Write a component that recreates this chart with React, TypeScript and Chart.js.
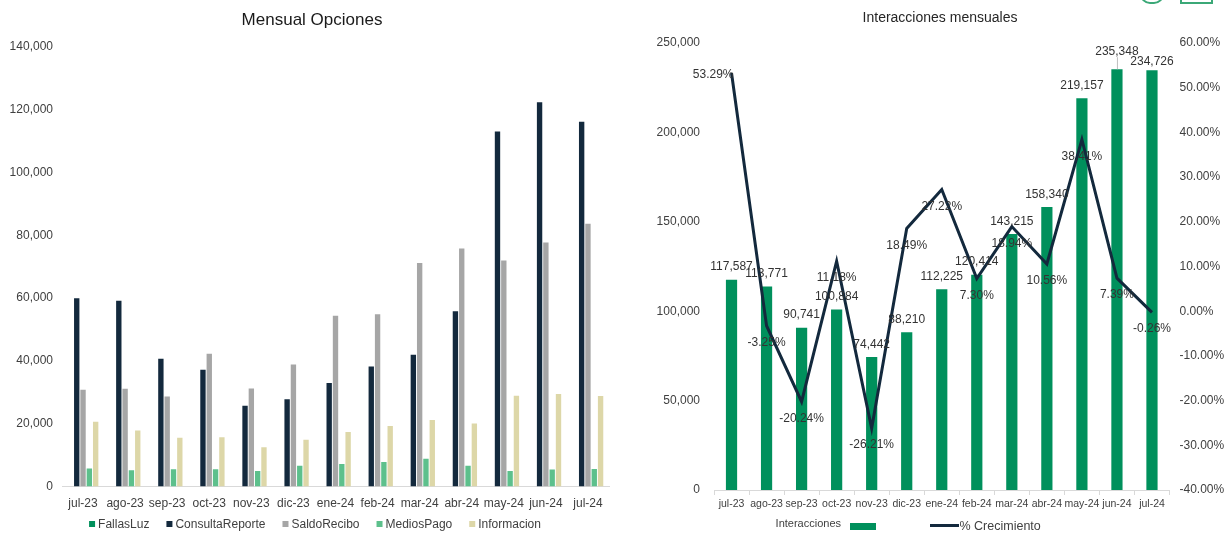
import React, { useEffect, useRef } from "react";
import { Chart, registerables } from "chart.js";

Chart.register(...registerables);

const months = ["jul-23", "ago-23", "sep-23", "oct-23", "nov-23", "dic-23", "ene-24", "feb-24", "mar-24", "abr-24", "may-24", "jun-24", "jul-24"];

const fallasLuz = [0, 0, 0, 0, 0, 0, 0, 0, 0, 0, 0, 0, 0];
const consultaReporte = [60000, 59200, 40700, 37200, 25700, 27800, 33000, 38200, 42000, 55800, 113100, 122400, 116200];
const saldoRecibo = [30800, 31100, 28700, 42300, 31200, 38900, 54400, 54900, 71200, 75800, 72000, 77700, 83700];
const mediosPago = [5700, 5200, 5500, 5500, 4900, 6600, 7200, 7800, 8800, 6600, 4900, 5400, 5600];
const informacion = [20600, 17800, 15500, 15700, 12500, 14900, 17400, 19300, 21200, 20100, 28900, 29500, 28800];

const seriesNames = ["FallasLuz", "ConsultaReporte", "SaldoRecibo", "MediosPago", "Informacion"];
const seriesColors = ["#00905C", "#13293D", "#A6A6A6", "#5DC08C", "#DDD7A8"];

const interacciones = [117587, 113771, 90741, 100884, 74442, 88210, 112225, 120414, 143215, 158340, 219157, 235348, 234726];
const crecimiento = [53.29, -3.25, -20.24, 11.18, -26.21, 18.49, 27.22, 7.3, 18.94, 10.56, 38.41, 7.39, -0.26];

const leftTitle = "Mensual Opciones";
const rightTitle = "Interacciones mensuales";
const rightLegend = ["Interacciones", "% Crecimiento"];

const FONT = '"Liberation Sans", Arial, sans-serif';
const TEXT = "#404040";

function LeftChart() {
  const ref = useRef<HTMLCanvasElement>(null);
  useEffect(() => {
    const series = [fallasLuz, consultaReporte, saldoRecibo, mediosPago, informacion];
    const overlay = {
      id: "leftOverlay",
      afterDraw(chart: any) {
        const ctx = chart.ctx;
        ctx.save();
        ctx.fillStyle = "#1a1a1a";
        ctx.font = `17px ${FONT}`;
        ctx.textAlign = "center";
        ctx.textBaseline = "middle";
        ctx.fillText(leftTitle, 312, 20.5);
        // legend
        ctx.font = `12px ${FONT}`;
        ctx.textAlign = "left";
        const box = 6, gap = 3, spacing = 17;
        const widths = seriesNames.map((n) => box + gap + ctx.measureText(n).width);
        const total = widths.reduce((a, b) => a + b, 0) + spacing * (widths.length - 1);
        let x = 315 - total / 2;
        seriesNames.forEach((n, i) => {
          ctx.fillStyle = seriesColors[i];
          ctx.fillRect(x, 521, box, box);
          ctx.fillStyle = TEXT;
          ctx.fillText(n, x + box + gap, 524.5);
          x += widths[i] + spacing;
        });
        ctx.restore();
      },
    };
    const chart = new Chart(ref.current as HTMLCanvasElement, {
      type: "bar",
      data: {
        labels: months,
        datasets: series.map((d, i) => ({
          label: seriesNames[i],
          data: d,
          backgroundColor: seriesColors[i],
          categoryPercentage: 0.75,
          barPercentage: 0.85,
        })),
      },
      options: {
        responsive: false,
        animation: false,
        devicePixelRatio: 1,
        layout: { padding: { top: 47, right: 11, bottom: 0, left: 0 } },
        plugins: { legend: { display: false }, title: { display: false }, tooltip: { enabled: false } },
        scales: {
          x: {
            grid: { display: false, drawTicks: false },
            border: { display: true, color: "#D9D9D9", width: 1 },
            ticks: { color: TEXT, font: { family: FONT, size: 12 }, padding: 10, maxRotation: 0, autoSkip: false },
            afterFit: (s: any) => { s.height = 46.5; },
          },
          y: {
            min: 0,
            max: 140000,
            grid: { display: false, drawTicks: false },
            border: { display: false },
            ticks: {
              stepSize: 20000,
              color: TEXT,
              font: { family: FONT, size: 12 },
              padding: 9,
              callback: (v: any) => Number(v).toLocaleString("en-US"),
            },
            afterFit: (s: any) => { s.width = 62; },
          },
        },
      },
      plugins: [overlay],
    } as any);
    return () => chart.destroy();
  }, []);
  return <canvas ref={ref} width={620} height={533} style={{ display: "block", width: 620, height: 533 }} />;
}

function RightChart() {
  const ref = useRef<HTMLCanvasElement>(null);
  useEffect(() => {
    const overlay = {
      id: "rightOverlay",
      afterDatasetsDraw(chart: any) {
        const ctx = chart.ctx;
        ctx.save();
        ctx.font = `12px ${FONT}`;
        ctx.fillStyle = "#333333";
        ctx.textBaseline = "middle";
        const barMeta = chart.getDatasetMeta(1);
        const lineMeta = chart.getDatasetMeta(0);
        barMeta.data.forEach((el: any, i: number) => {
          const txt = interacciones[i].toLocaleString("en-US");
          ctx.textAlign = "center";
          let y = el.y - 12.7;
          if (i === 11) {
            y = el.y - 18;
            ctx.strokeStyle = "#BFBFBF";
            ctx.lineWidth = 1;
            ctx.beginPath();
            ctx.moveTo(el.x + 0.5, y + 6);
            ctx.lineTo(el.x + 0.5, el.y);
            ctx.stroke();
          }
          if (i === 12) y = el.y - 8.5;
          ctx.fillText(txt, el.x, y);
        });
        lineMeta.data.forEach((el: any, i: number) => {
          const txt = crecimiento[i].toFixed(2) + "%";
          if (i === 0) {
            ctx.textAlign = "right";
            ctx.fillText(txt, el.x + 2, el.y + 2);
          } else {
            ctx.textAlign = "center";
            ctx.fillText(txt, el.x, el.y + 16.7);
          }
        });
        ctx.restore();
      },
      afterDraw(chart: any) {
        const ctx = chart.ctx;
        ctx.save();
        ctx.fillStyle = "#262626";
        ctx.font = `14px ${FONT}`;
        ctx.textAlign = "center";
        ctx.textBaseline = "middle";
        ctx.fillText(rightTitle, 320, 18.5);
        // legend
        ctx.fillStyle = TEXT;
        ctx.font = `11px ${FONT}`;
        ctx.textAlign = "right";
        ctx.fillText(rightLegend[0], 221, 524);
        ctx.fillStyle = "#00905C";
        ctx.fillRect(230, 523, 26, 7);
        ctx.strokeStyle = "#13293D";
        ctx.lineWidth = 3;
        ctx.beginPath();
        ctx.moveTo(310, 525.5);
        ctx.lineTo(339, 525.5);
        ctx.stroke();
        ctx.fillStyle = TEXT;
        ctx.font = `12.5px ${FONT}`;
        ctx.textAlign = "left";
        ctx.fillText(rightLegend[1], 339.5, 527);
        ctx.restore();
      },
    };
    const chart = new Chart(ref.current as HTMLCanvasElement, {
      type: "bar",
      data: {
        labels: months,
        datasets: [
          {
            type: "line",
            label: rightLegend[1],
            data: crecimiento,
            yAxisID: "y1",
            borderColor: "#13293D",
            borderWidth: 3,
            pointRadius: 0,
            tension: 0,
            order: 0,
          },
          {
            type: "bar",
            label: rightLegend[0],
            data: interacciones,
            yAxisID: "y",
            backgroundColor: "#00905C",
            categoryPercentage: 1,
            barPercentage: 0.32,
            order: 1,
          },
        ],
      },
      options: {
        responsive: false,
        animation: false,
        devicePixelRatio: 1,
        layout: { padding: { top: 43, right: 0, bottom: 0, left: 0 } },
        plugins: { legend: { display: false }, title: { display: false }, tooltip: { enabled: false } },
        scales: {
          x: {
            offset: true,
            grid: { display: true, drawOnChartArea: false, drawTicks: true, tickLength: 5, color: "#D9D9D9", offset: true },
            border: { display: true, color: "#D9D9D9", width: 1 },
            ticks: { color: TEXT, font: { family: FONT, size: 10.5 }, padding: 2.5, maxRotation: 0, autoSkip: false },
            afterFit: (s: any) => { s.height = 43; },
          },
          y: {
            position: "left",
            min: 0,
            max: 250000,
            grid: { display: false, drawTicks: false },
            border: { display: false },
            ticks: {
              stepSize: 50000,
              color: TEXT,
              font: { family: FONT, size: 12 },
              padding: 14,
              callback: (v: any) => Number(v).toLocaleString("en-US"),
            },
            afterFit: (s: any) => { s.width = 94; },
          },
          y1: {
            position: "right",
            min: -40,
            max: 60,
            grid: { display: false, drawTicks: false },
            border: { display: false },
            ticks: {
              stepSize: 10,
              color: TEXT,
              font: { family: FONT, size: 12 },
              padding: 10,
              callback: (v: any) => Number(v).toFixed(2) + "%",
            },
            afterFit: (s: any) => { s.width = 54.5; },
          },
        },
      },
      plugins: [overlay],
    } as any);
    return () => chart.destroy();
  }, []);
  return <canvas ref={ref} width={604} height={533} style={{ display: "block", width: 604, height: 533 }} />;
}

export default function App() {
  return (
    <div style={{ position: "fixed", left: 0, top: 0, width: 1224, height: 533, background: "#ffffff", overflow: "hidden" }}>
      <div style={{ position: "absolute", left: 0, top: 0, width: 620, height: 533 }}>
        <LeftChart />
      </div>
      <div style={{ position: "absolute", left: 620, top: 0, width: 604, height: 533 }}>
        <RightChart />
      </div>
      <div style={{ position: "absolute", left: 1140, top: -12, width: 20, height: 12, border: "2px solid #3BA877", borderRadius: "0 0 10px 10px" }} />
      <div style={{ position: "absolute", left: 1180, top: -12, width: 29, height: 12, border: "2px solid #3BA877" }} />
    </div>
  );
}
